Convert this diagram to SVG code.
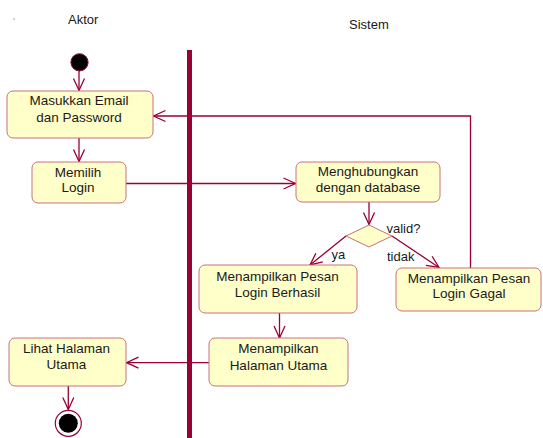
<svg xmlns="http://www.w3.org/2000/svg" width="543" height="438" viewBox="0 0 543 438">
<style>
.box{fill:#FFFFCA;stroke:#C8707F;stroke-width:1}
.t{font-family:"Liberation Sans",Arial,sans-serif;font-size:13.5px;fill:#1a1a1a;text-anchor:middle}
.lb{font-family:"Liberation Sans",Arial,sans-serif;font-size:13px;fill:#1a1a1a}
.c{fill:none;stroke:#990033;stroke-width:1.3}
</style>
<defs>
<marker id="ah" viewBox="0 0 13 12" refX="12" refY="5.5" markerWidth="13" markerHeight="12" markerUnits="userSpaceOnUse" orient="auto" overflow="visible">
<path d="M0,0 L12,5.5 L0,11" fill="none" stroke="#990033" stroke-width="1.3"/>
</marker>
</defs>
<rect width="543" height="438" fill="#ffffff"/>
<rect x="13.5" y="18.5" width="1.2" height="1.2" fill="#C06080"/>
<text class="lb" x="68" y="24">Aktor</text>
<text class="lb" x="349" y="28.5">Sistem</text>

<g id="connectors">
<line class="c" x1="79" y1="71" x2="79" y2="90.5" marker-end="url(#ah)"/>
<line class="c" x1="79" y1="138" x2="79" y2="161.5" marker-end="url(#ah)"/>
<line class="c" x1="126" y1="183.5" x2="295.5" y2="183.5" marker-end="url(#ah)"/>
<line class="c" x1="369" y1="202" x2="369" y2="224.5" marker-end="url(#ah)"/>
<line class="c" x1="346" y1="236" x2="310" y2="265" marker-end="url(#ah)"/>
<line class="c" x1="392" y1="236" x2="439" y2="267.5" marker-end="url(#ah)"/>
<polyline class="c" points="470.5,268 470.5,116 153.5,116" marker-end="url(#ah)"/>
<line class="c" x1="279.5" y1="313" x2="279.5" y2="338" marker-end="url(#ah)"/>
<line class="c" x1="209" y1="362.7" x2="126.5" y2="362.7" marker-end="url(#ah)"/>
<line class="c" x1="68.3" y1="386" x2="68.3" y2="409.5" marker-end="url(#ah)"/>
</g>

<rect id="swimlane" x="187" y="50" width="5" height="388" fill="#990033"/>

<g id="start">
<circle cx="79.5" cy="62.3" r="8.6" fill="#000000" stroke="#990033" stroke-width="1"/>
</g>

<g id="masukkan">
<rect class="box" x="7" y="91" width="146" height="47" rx="6"/>
<text class="t" x="79" y="105">Masukkan Email</text>
<text class="t" x="79" y="121.7">dan Password</text>
</g>

<g id="memilih">
<rect class="box" x="32" y="162" width="94" height="41" rx="6"/>
<text class="t" x="78" y="176.5">Memilih</text>
<text class="t" x="78" y="192.2">Login</text>
</g>

<g id="menghubungkan">
<rect class="box" x="296" y="162" width="144" height="40" rx="6"/>
<text class="t" x="368" y="176.3">Menghubungkan</text>
<text class="t" x="368" y="191.7">dengan database</text>
</g>

<g id="decision">
<polygon points="369,225 392,236 369,247 346,236" fill="#FFFFCA" stroke="#C8707F" stroke-width="1"/>
<text class="lb" x="386.5" y="232.7">valid?</text>
<text class="lb" x="331.5" y="259">ya</text>
<text class="lb" x="387" y="261">tidak</text>
</g>

<g id="berhasil">
<rect class="box" x="199" y="265" width="158" height="48" rx="6"/>
<text class="t" x="277.5" y="280.5">Menampilkan Pesan</text>
<text class="t" x="277.5" y="297">Login Berhasil</text>
</g>

<g id="gagal">
<rect class="box" x="396" y="268" width="145" height="43" rx="6"/>
<text class="t" x="469" y="283">Menampilkan Pesan</text>
<text class="t" x="469" y="298.3">Login Gagal</text>
</g>

<g id="halaman">
<rect class="box" x="209" y="338" width="139" height="48" rx="6"/>
<text class="t" x="278.4" y="352.7">Menampilkan</text>
<text class="t" x="278.4" y="369.5">Halaman Utama</text>
</g>

<g id="lihat">
<rect class="box" x="9" y="338" width="117" height="48" rx="6"/>
<text class="t" x="66.5" y="352.5">Lihat Halaman</text>
<text class="t" x="66.5" y="369">Utama</text>
</g>

<g id="end">
<circle cx="68.3" cy="423.3" r="13" fill="#ffffff" stroke="#990033" stroke-width="1.2"/>
<circle cx="68.3" cy="423.3" r="9.5" fill="#000000"/>
</g>
</svg>
